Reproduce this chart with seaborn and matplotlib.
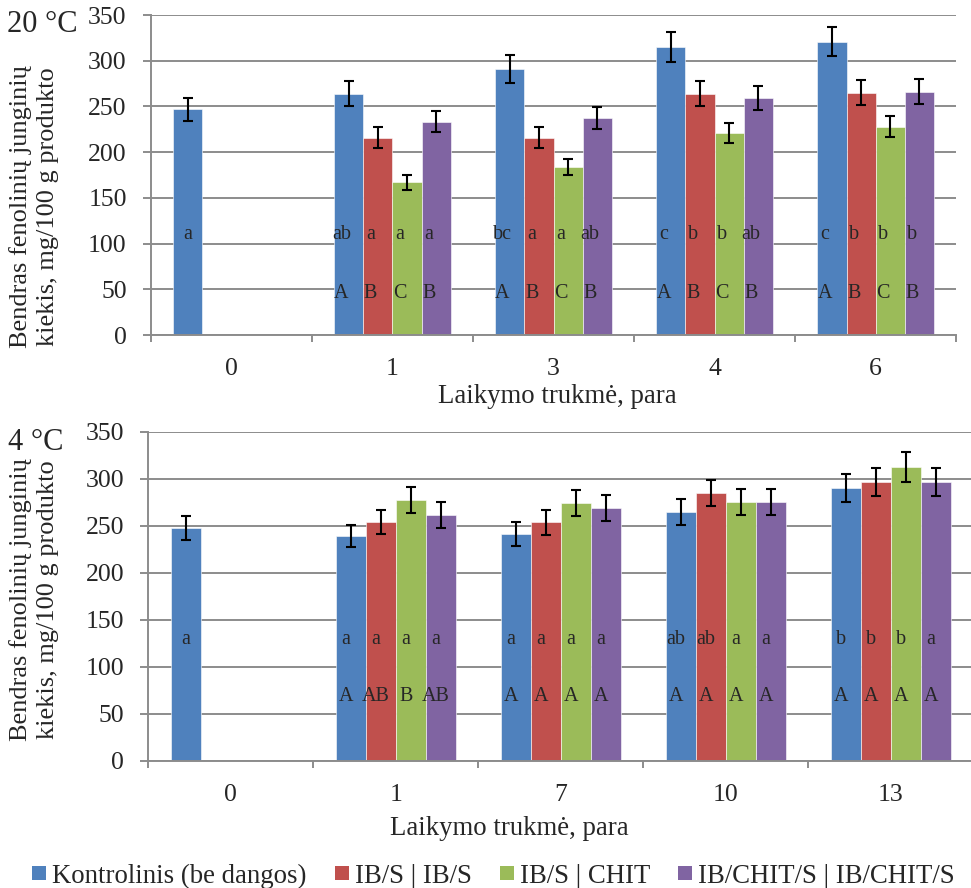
import numpy as np
import pandas as pd
import matplotlib
matplotlib.use("Agg")
import matplotlib.pyplot as plt
from matplotlib.patches import Patch
from matplotlib.container import BarContainer
import seaborn as sns

# ---------------- data ----------------
treatments = ["Kontrolinis (be dangos)", "IB/S | IB/S", "IB/S | CHIT", "IB/CHIT/S | IB/CHIT/S"]
colors = ["#4F81BD", "#C0504D", "#9BBB59", "#8064A2"]
nan = np.nan

# 20 °C
days_20 = ["0", "1", "3", "4", "6"]
kontr_20 = [247, 264, 291, 315, 321]
ibs_20 = [nan, 216, 216, 264, 265]
chit_20 = [nan, 167, 184, 221, 228]
ibchit_20 = [nan, 233, 237, 259, 266]
err_kontr_20 = [12.5, 14, 15, 16, 16]
err_ibs_20 = [nan, 11, 11, 14, 13.5]
err_chit_20 = [nan, 8, 9, 11, 11.5]
err_ibchit_20 = [nan, 11.5, 12, 13, 13.5]
lower_20 = [["a", "", "", ""], ["ab", "a", "a", "a"], ["bc", "a", "a", "ab"],
            ["c", "b", "b", "ab"], ["c", "b", "b", "b"]]
upper_20 = [["", "", "", ""], ["A", "B", "C", "B"], ["A", "B", "C", "B"],
            ["A", "B", "C", "B"], ["A", "B", "C", "B"]]

# 4 °C
days_4 = ["0", "1", "7", "10", "13"]
kontr_4 = [247.5, 239, 241, 264.5, 290]
ibs_4 = [nan, 254, 253.5, 285, 296.5]
chit_4 = [nan, 277.5, 274, 275, 312]
ibchit_4 = [nan, 261.5, 269, 275, 296.5]
err_kontr_4 = [12.5, 12, 12.5, 13.5, 15]
err_ibs_4 = [nan, 13, 13, 14, 14.5]
err_chit_4 = [nan, 14, 14, 14, 16]
err_ibchit_4 = [nan, 13.5, 13.5, 14, 15]
lower_4 = [["a", "", "", ""], ["a", "a", "a", "a"], ["a", "a", "a", "a"],
           ["ab", "ab", "a", "a"], ["b", "b", "b", "a"]]
upper_4 = [["", "", "", ""], ["A", "AB", "B", "AB"], ["A", "A", "A", "A"],
           ["A", "A", "A", "A"], ["A", "A", "A", "A"]]

ylabel = "Bendras fenolinių junginių\nkiekis, mg/100 g produkto"
xlabel = "Laikymo trukmė, para"

# ---------------- style ----------------
sns.set_style("white")
plt.rcParams["font.family"] = ["Liberation Serif", "DejaVu Serif"]
GRID = "#8C8C8C"
TFS = 18.5     # tick labels
FS = 19.3      # axis labels / legend
YFS = 19.0     # y label
LFS = 14.5     # significance letters
BAR_W = 0.724


def make_df(days, series):
    rows = []
    for t, vals in zip(treatments, series):
        for d, v in zip(days, vals):
            if not np.isnan(v):
                rows.append({"day": d, "treatment": t, "value": v})
    return pd.DataFrame(rows)


def panel(ax, days, series, errs, lower, upper, low_y, up_y, lab_off, xl_coords, yl_coords):
    df = make_df(days, series)
    sns.barplot(data=df, x="day", y="value", hue="treatment", order=days,
                hue_order=treatments, palette=colors, width=BAR_W, errorbar=None,
                ax=ax, legend=False, saturation=1, edgecolor="white", linewidth=0.4)
    slot = BAR_W / len(treatments)
    bars = [b for c in list(ax.containers) if isinstance(c, BarContainer) for b in c]
    for bar in bars:
        h = bar.get_height()
        if np.isnan(h) or h == 0:
            continue
        xc = bar.get_x() + bar.get_width() / 2
        ci = int(round(xc))
        hi = int(round((xc - ci) / slot + (len(treatments) - 1) / 2))
        e = errs[hi][ci]
        ax.errorbar(xc, h, yerr=e, fmt="none", ecolor="black", elinewidth=1.5,
                    capsize=3.9, capthick=1.5, zorder=4)
        off = 0 if ci == 0 else lab_off
        if lower[ci][hi]:
            ax.text(xc + off, low_y, lower[ci][hi], ha="center", va="baseline",
                    fontsize=LFS, zorder=5)
        if upper[ci][hi]:
            ax.text(xc + off, up_y, upper[ci][hi], ha="center", va="baseline",
                    fontsize=LFS, zorder=5)

    ax.set_xlim(-0.5, len(days) - 0.5)
    ax.set_ylim(0, 350)
    ax.set_yticks(np.arange(0, 351, 50))
    ax.yaxis.grid(True, color=GRID, linewidth=1.4)
    ax.xaxis.grid(False)
    ax.set_axisbelow(True)
    for s in ["top", "right"]:
        ax.spines[s].set_visible(False)
    for s in ["left", "bottom"]:
        ax.spines[s].set_color(GRID)
        ax.spines[s].set_linewidth(1.4)
    ax.set_xticks(np.arange(-0.5, len(days), 1.0))
    ax.set_xticklabels([])
    ax.set_xticks(np.arange(len(days)), minor=True)
    ax.set_xticklabels(days, minor=True)
    ax.tick_params(axis="x", which="major", length=5, width=1.4, color=GRID, direction="out", bottom=True)
    ax.tick_params(axis="x", which="minor", length=0, pad=16.5, labelsize=TFS, bottom=True)
    ax.tick_params(axis="y", which="major", length=5.8, width=1.4, color=GRID, direction="out",
                   pad=11.5, labelsize=TFS, left=True)
    ax.set_xlabel(xlabel, fontsize=FS)
    ax.xaxis.label.set_va("baseline")
    ax.xaxis.set_label_coords(*xl_coords)
    ax.set_ylabel(ylabel, fontsize=YFS, linespacing=1.3, multialignment="center")
    ax.yaxis.label.set_va("center")
    ax.yaxis.set_label_coords(*yl_coords)


W, H = 971, 888
fig = plt.figure(figsize=(W / 100, H / 100), dpi=100)

ax1 = fig.add_axes([150.7 / W, (H - 335) / H, 805.6 / W, 320 / H])
ax2 = fig.add_axes([148.3 / W, (H - 760.7) / H, 825 / W, 329 / H])

panel(ax1, days_20, [kontr_20, ibs_20, chit_20, ibchit_20],
      [err_kontr_20, err_ibs_20, err_chit_20, err_ibchit_20],
      lower_20, upper_20, 105, 40, -0.045,
      ((557 - 150.7) / 805.6, (335 - 403.3) / 320),
      ((34 - 150.7) / 805.6, (335 - 206.5) / 320))
panel(ax2, days_4, [kontr_4, ibs_4, chit_4, ibchit_4],
      [err_kontr_4, err_ibs_4, err_chit_4, err_ibchit_4],
      lower_4, upper_4, 124, 63, -0.03,
      ((509 - 148.3) / 825, (760.7 - 835) / 329),
      ((34 - 148.3) / 825, (760.7 - 600) / 329))

fig.text(7 / W, (H - 31.7) / H, "20 °C", fontsize=22, ha="left", va="baseline")
fig.text(8 / W, (H - 450) / H, "4 °C", fontsize=22, ha="left", va="baseline")

handles = [Patch(facecolor=c, edgecolor="none", label=t) for c, t in zip(colors, treatments)]
fig.legend(handles=handles, loc="center", bbox_to_anchor=(493.5 / W, 12 / H), ncol=4,
           frameon=False, fontsize=FS, handlelength=0.52, handleheight=0.43,
           handletextpad=0.22, columnspacing=1.05, borderpad=0, borderaxespad=0)

fig.savefig("out.png", dpi=100)
